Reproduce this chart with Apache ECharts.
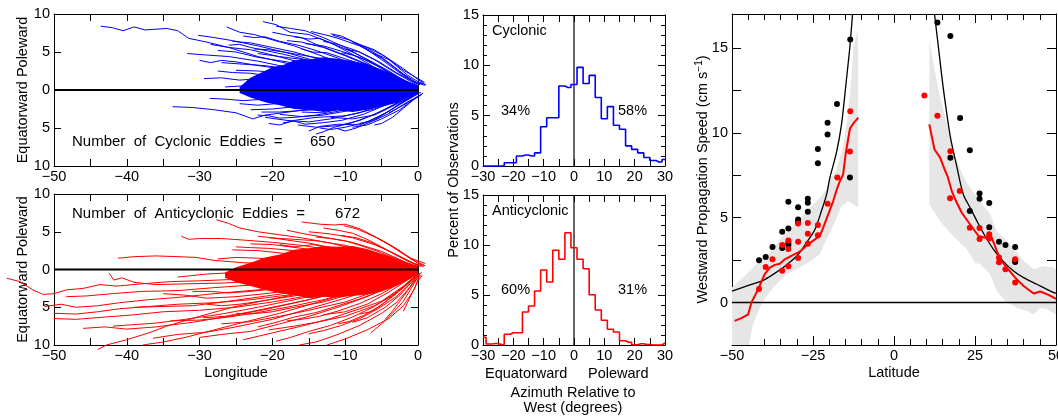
<!DOCTYPE html>
<html>
<head>
<meta charset="utf-8">
<title>Eddy propagation</title>
<script src="https://cdn.jsdelivr.net/npm/echarts@6/dist/echarts.min.js"></script>
<style>
    html, body { margin: 0; padding: 0; background: #fff; }
    #chart { width: 1058px; height: 416px; }
</style>
</head>
<body>
<div id="chart"></div>
<script>
// --- data ---

// eddy tracks, [longitude offset, latitude offset], west end first
const cycTracks = [
    [[-43.6,8.4],[-42,8.2],[-40.5,7.8],[-39,8.3],[-37.5,7.9],[-36,8.0],[-34.5,8.1],[-33,7.8],[-31.5,6.8],[-29,6.3],[-26,5.6],[-22,4.4],[-18,3.5],[-13,2.4],[-8,1.4],[-4,0.6],[0,0]],
    [[-30.2,7.2],[-28,6.9],[-25.5,6.5],[-22,5.8],[-18,4.9],[-14,3.8],[-10,2.6],[-6,1.4],[-3,0.6],[0,0.1]],
    [[-26.3,8.3],[-24.5,7.6],[-22.5,7.3],[-20,6.6],[-17,5.8],[-13,4.4],[-9,2.9],[-5,1.5],[-2,0.6],[0,0.2]],
    [[-21.3,9.0],[-19.5,8.6],[-17.6,7.6],[-15,7.3],[-12,6.2],[-9,4.7],[-6,3.0],[-3,1.5],[0,0.3]],
    [[-19.5,8.4],[-17.5,8.1],[-15.5,7.8],[-13,6.9],[-10,5.6],[-7,4.0],[-4,2.3],[-1.5,1.0],[0,0.4]],
    [[-14.7,7.7],[-12.5,7.2],[-11,6.8],[-8,5.8],[-5,4.2],[-2.5,2.4],[-0.5,1.0],[0.6,0.8]],
    [[-11.7,7.2],[-9.5,6.6],[-7,5.6],[-4.5,4.4],[-2,2.8],[0,1.4],[0.8,0.9]],
    [[-31.7,4.8],[-29,4.6],[-26,4.4],[-22,3.8],[-18,3.0],[-14,2.2],[-10,1.4],[-5,0.6],[0,0]],
    [[-28.5,6.0],[-26,5.6],[-23,5.3],[-20,4.6],[-16,3.6],[-12,2.6],[-8,1.6],[-4,0.7],[0,0.1]],
    [[-29.4,1.5],[-27,1.6],[-24.5,1.3],[-22,1.5],[-19,1.2],[-15,0.9],[-10,0.6],[-5,0.3],[0,0]],
    [[-28.6,-1.1],[-26.5,-1.2],[-24,-1.4],[-21,-1.2],[-17,-1.0],[-12,-0.8],[-7,-0.4],[0,0]],
    [[-33.7,-2.2],[-31,-2.3],[-28,-2.6],[-25,-3.0],[-22.7,-3.8],[-21,-3.3],[-17,-2.8],[-12,-2.0],[-7,-1.2],[-3,-0.5],[0,0]],
    [[-14,-5.8],[-13,-5.5],[-11.5,-4.9],[-9,-4.3],[-6,-3.2],[-3,-1.8],[0,-0.3]],
    [[-15,-5.4],[-13.5,-4.8],[-11,-4.5],[-8,-4.6],[-5.5,-3.6],[-3,-2.2],[0,-0.5]],
    [[-21,-3.6],[-18,-4.0],[-15,-4.2],[-12,-3.8],[-8,-3.0],[-4,-1.6],[0,-0.2]],
    [[-9,-4.9],[-7,-4.6],[-5,-3.8],[-2.5,-2.6],[0,-0.8]],
    [[-25,2.6],[-22,2.5],[-19,2.3],[-15,1.8],[-10,1.1],[-5,0.5],[0,0]],
    [[-27,3.6],[-24,3.4],[-21,3.2],[-17,2.7],[-13,2.0],[-8,1.1],[-4,0.4],[0,0]],
    [[-24,-0.4],[-21,-0.6],[-18,-0.5],[-14,-0.4],[-9,-0.2],[0,0]],
    [[-23,-2.6],[-20,-2.5],[-17,-2.2],[-13,-1.8],[-9,-1.2],[-4,-0.5],[0,0]],
    [[-19,-3.2],[-16,-3.5],[-13,-3.3],[-10,-2.8],[-6,-1.9],[-2,-0.7],[0,-0.1]],
    [[-25.5,6.4],[-23,6.2],[-20,5.6],[-17,5.0],[-13,3.9],[-9,2.7],[-5,1.4],[0,0.1]],
    [[-18,6.5],[-16,6.3],[-13,5.6],[-10,4.5],[-7,3.3],[-4,2.0],[-1,0.7],[0,0.3]],
    [[-16.5,-4.6],[-14,-4.9],[-11,-4.7],[-8,-4.0],[-5,-2.8],[-2,-1.2],[0,-0.3]],
    [[-20,0.9],[-17,1.0],[-13,0.7],[-8,0.4],[0,0]],
    [[-12,-3.6],[-9,-3.8],[-6,-3.3],[-3,-1.9],[0,-0.4]],
    [[-8,-4.4],[-6,-4.0],[-4,-3.1],[-1.5,-1.6],[0.5,-0.6]],
    [[-6,4.8],[-4,4.0],[-2,2.6],[0,1.5],[0.9,1.0]],
    [[-10,5.4],[-8,5.0],[-5.5,3.8],[-3,2.3],[0,0.8]],
    [[-22,4.8],[-19,4.4],[-15,3.9],[-11,3.0],[-7,1.9],[-3,0.8],[0,0.1]],
    [[-17,-1.8],[-14,-2.1],[-10,-1.8],[-6,-1.2],[-2,-0.4],[0,0]],
    [[-26.5,0.4],[-23,0.6],[-19,0.3],[-15,0.2],[-10,0.1],[0,0]],
    [[-20.5,-4.4],[-19,-4.6],[-17,-4.0],[-14,-3.6],[-10,-3.4],[-6,-2.5],[-2,-1.0],[0,-0.2]],
    [[-27.5,5.2],[-25,5.0],[-22,4.3],[-18,3.7],[-14,2.9],[-10,2.0],[-5,0.9],[0,0.1]],
    [[-13,6.4],[-11,6.0],[-8.5,5.2],[-6,4.0],[-3,2.2],[0,0.6]],
    [[-16,-2.9],[-13,-3.0],[-10,-2.3],[-6,-1.6],[-3,-0.8],[0,0]],
    [[-4,-3.0],[-2,-2.0],[0,-0.9],[0.7,-0.4]],
    [[-23.5,1.2],[-20,1.8],[-16,1.5],[-11,1.0],[-6,0.5],[0,0]],
    [[-24,7.1],[-22.5,6.9],[-21,7.0],[-19,6.4],[-16.5,5.9],[-14,5.2],[-11,4.2],[-8,3.0],[-5,1.8],[-2,0.7],[0,0.2]],
    [[-22.5,5.4],[-20.5,5.3],[-18.5,5.0],[-16,4.6],[-13,4.1],[-10,3.3],[-7,2.4],[-4,1.3],[-1,0.4],[0,0.1]],
    [[-17,7.0],[-15,6.7],[-13.5,6.8],[-11.5,6.0],[-9,5.0],[-6.5,3.8],[-4,2.5],[-2,1.3],[0,0.5]],
    [[-12,7.4],[-10.5,7.1],[-9,6.4],[-7,5.3],[-5,4.0],[-3,2.6],[-1,1.3],[0.3,0.7]],
    [[-9,6.3],[-7.5,5.7],[-6,4.9],[-4,3.6],[-2,2.1],[0,0.9],[1,0.6]],
    [[-20,7.6],[-18,7.2],[-16,6.9],[-14,6.0],[-12,5.3],[-9.5,4.4],[-7,3.4],[-4,2.0],[-1.5,0.9],[0,0.4]],
    [[-15.5,6.1],[-13,5.8],[-10.5,5.1],[-8,4.3],[-5.5,3.1],[-3,1.8],[-1,0.8],[0,0.3]],
    [[-7.5,5.8],[-6,5.3],[-4.5,4.4],[-3,3.2],[-1.5,2.0],[0,1.1],[1.1,0.7]],
    [[-24.5,-1.8],[-22,-2.0],[-19.5,-1.8],[-16,-1.5],[-12,-1.2],[-8,-0.8],[-4,-0.3],[0,0]],
    [[-18.5,-4.3],[-17,-4.1],[-15.5,-4.5],[-13,-4.3],[-10.5,-4.0],[-7.5,-3.2],[-4.5,-2.0],[-2,-0.9],[0,-0.2]],
    [[-11,-5.1],[-10,-5.4],[-8.5,-5.0],[-6.5,-4.2],[-4.5,-3.1],[-2.5,-1.8],[-0.5,-0.7],[0.4,-0.3]],
    [[-13.5,-5.0],[-12,-5.2],[-10,-4.9],[-7,-4.2],[-4,-2.8],[-1.5,-1.2],[0,-0.4]],
    [[-6,-4.6],[-5,-4.4],[-3.5,-3.6],[-2,-2.4],[-0.5,-1.2],[0.6,-0.5]],
    [[-27.5,2.5],[-25.5,2.3],[-23,2.2],[-20,1.8],[-16,1.4],[-11,0.8],[-6,0.4],[0,0]],
    [[-21.5,-2.9],[-19,-2.9],[-16,-2.7],[-12,-2.5],[-8,-1.7],[-4,-0.9],[0,-0.1]],
    [[-10.5,4.9],[-9,4.6],[-7,3.9],[-5,2.9],[-3,1.8],[-1,0.8],[0,0.4]],
    [[-26,5.9],[-24.5,6.0],[-23,5.6],[-21,5.2],[-18.5,4.7],[-15,3.9],[-11,2.8],[-7,1.7],[-3,0.7],[0,0.1]],
    [[-30,3.9],[-28.5,3.6],[-27,3.9],[-25,3.7],[-22.5,3.3],[-19,2.8],[-15,2.0],[-10,1.2],[-5,0.5],[0,0]],
    [[-22,-3.3],[-20.5,-3.4],[-19,-3.7],[-17,-3.6],[-14,-3.3],[-11,-2.8],[-7,-2.0],[-3,-0.9],[0,-0.1]],
    [[-16,5.4],[-14.5,5.0],[-12.5,4.9],[-10,4.1],[-7.5,3.3],[-5,2.2],[-2.5,1.1],[0,0.3]]
];

const antiTracks = [
    [[-56.5,-1.15],[-54.7,-1.6],[-52.9,-2.7],[-51.5,-3.3],[-50,-3.2],[-48.3,-2.7],[-46,-2.5],[-43.7,-2.0],[-41.4,-2.2],[-38,-1.9],[-34,-1.6],[-30,-1.5],[-25,-1.3],[-20,-1.0],[-14,-0.7],[-8,-0.4],[0,0]],
    [[-51.3,-4.9],[-49,-4.6],[-47,-5.0],[-44,-4.8],[-41,-4.4],[-37,-4.0],[-33,-3.7],[-28,-3.2],[-22,-2.7],[-16,-2.0],[-10,-1.3],[-5,-0.6],[0,0]],
    [[-50,-5.8],[-47,-5.9],[-44,-5.6],[-41,-5.2],[-37,-4.9],[-33,-4.6],[-28,-4.4],[-23,-4.0],[-18,-3.4],[-12,-2.4],[-6,-1.2],[0,0]],
    [[-50,-6.5],[-47,-6.6],[-43,-6.3],[-39,-6.0],[-35,-5.6],[-30,-5.4],[-25,-5.0],[-20,-4.3],[-14,-3.3],[-8,-2.0],[-3,-0.8],[0,0]],
    [[-48.3,-3.6],[-45.5,-3.5],[-42,-3.2],[-38,-2.9],[-33,-2.8],[-28,-2.4],[-22,-2.0],[-15,-1.5],[-8,-0.8],[0,0]],
    [[-42.4,-0.5],[-41.8,-1.4],[-40.7,-1.1],[-39,-1.7],[-36,-2.0],[-32,-1.9],[-27,-1.8],[-21,-1.5],[-14,-1.1],[-7,-0.5],[0,0]],
    [[-41.2,1.5],[-39,1.7],[-36,1.8],[-33,1.7],[-30.5,1.6],[-28,1.2],[-24,0.9],[-18,0.6],[-12,0.4],[-6,0.2],[0,0]],
    [[-32.5,4.4],[-31.5,4.0],[-30,4.1],[-27,4.1],[-24,3.9],[-20,3.6],[-16,3.2],[-12,2.6],[-8,1.8],[-4,0.9],[0,0.2]],
    [[-27.7,6.6],[-26,6.1],[-24.5,5.5],[-22,5.0],[-19,4.6],[-16,4.2],[-12,3.5],[-8,2.5],[-4,1.3],[0,0.2]],
    [[-16,6.3],[-13.5,6.0],[-11.5,5.9],[-10,6.0],[-8,5.4],[-6,4.4],[-4,3.3],[-2,2.1],[0,0.8],[1,0.5]],
    [[-10.2,5.8],[-8.5,5.4],[-6,4.4],[-3.5,3.0],[-1,1.4],[0.8,0.6]],
    [[-44,-10.6],[-42.8,-10.0],[-40,-9.3],[-37,-8.4],[-34.5,-7.5],[-30,-6.2],[-25.5,-5.0],[-20,-3.9],[-14,-2.8],[-8,-1.6],[-3,-0.6],[0,0]],
    [[-41.9,-7.5],[-39,-7.3],[-36,-7.1],[-32,-6.6],[-27,-5.9],[-22,-5.0],[-16,-3.8],[-10,-2.4],[-4,-1.0],[0,0]],
    [[-37.8,-10.0],[-35,-9.6],[-32,-9.0],[-28,-8.0],[-24,-7.0],[-19,-5.8],[-14,-4.4],[-9,-3.0],[-4,-1.4],[0,-0.2]],
    [[-36.4,-9.1],[-33,-8.6],[-29,-8.3],[-25,-7.6],[-20,-6.6],[-15,-5.2],[-10,-3.8],[-5,-2.2],[0,-0.3]],
    [[-16.3,-10.0],[-14,-9.6],[-11,-8.6],[-8,-7.4],[-5,-5.8],[-3,-4.4],[-1.5,-2.8],[0,-0.8]],
    [[-12.5,-10.0],[-10,-9.2],[-7,-8.0],[-4,-6.5],[-2,-4.8],[-0.5,-2.6],[0.2,-0.8]],
    [[-30,-9.0],[-27,-8.6],[-23,-8.2],[-19,-7.2],[-15,-6.2],[-11,-5.0],[-7,-3.6],[-3,-1.8],[0,-0.3]],
    [[-24,-9.3],[-20,-8.4],[-16,-7.5],[-12,-6.5],[-8,-5.2],[-5,-4.2],[-2,-2.2],[0,-0.5]],
    [[-20.5,-8.0],[-17,-7.5],[-14,-7.0],[-10,-6.2],[-6,-4.8],[-3,-3.2],[0,-0.6]],
    [[-34,-6.8],[-30,-6.7],[-26,-6.3],[-22,-5.7],[-18,-5.0],[-13,-4.0],[-8,-2.7],[-3,-1.1],[0,0]],
    [[-6.5,-8.4],[-5,-7.2],[-3.5,-5.8],[-2,-4.2],[-1,-2.6],[0,-1.0]],
    [[-15,5.0],[-12,4.7],[-9,4.2],[-6,3.3],[-3,2.0],[0,0.5]],
    [[-20.5,4.2],[-17,4.0],[-14,3.8],[-10,3.2],[-6,2.2],[-2,0.9],[0,0.3]],
    [[-23,3.4],[-20,3.3],[-16,2.8],[-12,2.3],[-8,1.6],[-4,0.7],[0,0]],
    [[-25.5,2.6],[-22,2.5],[-18,2.1],[-13,1.6],[-8,1.0],[-3,0.3],[0,0]],
    [[-7,4.8],[-5,3.9],[-3,2.8],[-1,1.5],[1,0.8]],
    [[-13,-6.0],[-10,-5.6],[-7,-4.6],[-4,-3.0],[-1.5,-1.4],[0,-0.4]],
    [[-27,-7.2],[-23,-6.9],[-19,-6.2],[-15,-5.4],[-10,-4.3],[-5,-2.6],[0,-0.2]],
    [[-39,-5.0],[-35,-4.9],[-31,-4.8],[-26,-4.2],[-20,-3.4],[-14,-2.6],[-7,-1.3],[0,0]],
    [[-46,-7.8],[-43,-7.6],[-40,-7.9],[-36,-7.6],[-31,-7.0],[-26,-6.2],[-21,-5.3],[-15,-4.0],[-9,-2.5],[-3,-0.8],[0,0]],
    [[-33,-1.0],[-29,-0.6],[-25,-0.4],[-20,-0.3],[-14,-0.2],[0,0]],
    [[-9,-7.0],[-7,-6.4],[-4.5,-5.0],[-2.5,-3.4],[-1,-1.8],[0.3,-0.6]],
    [[-18,5.2],[-15.5,4.7],[-12.5,4.2],[-9,3.6],[-5,2.4],[-2,1.1],[0,0.3]],
    [[-2,-5.5],[-1,-3.5],[0,-1.5],[0.6,-0.8]],
    [[-22,4.4],[-20,4.2],[-18,3.9],[-15,3.5],[-12,2.9],[-9,2.2],[-6,1.4],[-3,0.6],[0,0.1]],
    [[-13,5.5],[-11,5.2],[-9,4.8],[-7,4.0],[-5,3.0],[-3,1.9],[-1,0.9],[0.5,0.4]],
    [[-19,3.3],[-17,3.0],[-14.5,3.3],[-12,2.9],[-9,2.4],[-6,1.6],[-3,0.8],[0,0.2]],
    [[-10.5,4.5],[-8.5,4.2],[-6.5,3.6],[-4.5,2.7],[-2.5,1.7],[-0.5,0.8],[0.8,0.4]],
    [[-31,-2.9],[-28.5,-2.9],[-26,-3.1],[-23,-2.9],[-19,-2.5],[-14,-1.9],[-9,-1.2],[-4,-0.5],[0,0]],
    [[-29,-4.6],[-27,-4.8],[-24.5,-4.6],[-21,-4.1],[-17,-3.5],[-12,-2.6],[-7,-1.5],[-3,-0.6],[0,0]],
    [[-25,-5.8],[-23,-5.9],[-20,-5.6],[-17,-5.0],[-13,-4.3],[-9,-3.2],[-5,-1.9],[-2,-0.8],[0,-0.2]],
    [[-18,-6.8],[-16,-6.6],[-13.5,-6.2],[-11,-5.5],[-8,-4.5],[-5,-3.2],[-2.5,-1.8],[0,-0.5]],
    [[-11,-7.2],[-9.5,-6.9],[-7.5,-6.1],[-5.5,-5.0],[-3.5,-3.6],[-1.5,-2.0],[0,-0.8]],
    [[-22,-7.6],[-19.5,-7.0],[-17,-6.3],[-14,-5.7],[-11,-4.8],[-8,-3.9],[-5,-2.8],[-2,-1.2],[0,-0.3]],
    [[-35,-3.2],[-32,-3.4],[-29,-3.8],[-25,-3.6],[-21,-3.2],[-16,-2.6],[-11,-1.8],[-6,-0.9],[0,0]],
    [[-4.5,-6.6],[-3.5,-5.5],[-2.5,-4.2],[-1.5,-2.9],[-0.5,-1.6],[0.5,-0.7]],
    [[-15,-8.5],[-13,-8.1],[-10.5,-7.4],[-8,-6.5],[-5.5,-5.2],[-3,-3.6],[-1,-1.8],[0.2,-0.7]],
    [[-27.5,1.4],[-25,1.6],[-22,1.5],[-18,1.3],[-13,0.9],[-8,0.6],[-3,0.2],[0,0]],
    [[-8,-5.9],[-6.5,-5.6],[-5,-4.7],[-3.5,-3.5],[-2,-2.3],[-0.5,-1.0],[0.5,-0.4]],
    [[-29.5,-6.4],[-26.5,-6.2],[-23,-5.6],[-19,-4.8],[-15,-4.0],[-11,-3.1],[-6,-1.8],[-2,-0.6],[0,0]],
    [[-25,3.0],[-23,2.9],[-20.5,2.8],[-17,2.5],[-13,2.1],[-9,1.5],[-5,0.8],[-2,0.3],[0,0]],
    [[-14,4.3],[-12,4.1],[-10,3.8],[-8,3.2],[-5.5,2.4],[-3,1.4],[-1,0.6],[0,0.3]],
    [[-19.5,-9.5],[-17.5,-9.0],[-15,-8.2],[-12,-7.4],[-9,-6.3],[-6,-4.9],[-3,-3.0],[-1,-1.5],[0,-0.6]]
];

// outline of the solid, over-plotted core of each track bundle
const cycCore = [[-24.5,0.4],[-23,1.6],[-21.5,2.3],[-20,3.0],[-18.5,3.3],[-17,3.9],[-15,4.0],[-13,4.3],[-11,4.1],[-9,3.8],[-7,3.4],[-5,2.7],[-3,1.9],[-1.5,1.2],[0,0.6],
    [0,-0.5],[-1.5,-1.0],[-3,-1.7],[-5,-2.2],[-7,-2.6],[-9,-2.9],[-11,-2.7],[-13,-2.9],[-15,-2.6],[-17,-2.5],[-19,-2.0],[-21,-1.6],[-23,-1.0],[-24.5,-0.4]];
const antiCore = [[-26.5,-0.4],[-25,0.3],[-23,0.9],[-21,1.6],[-19,2.0],[-17,2.6],[-15,2.8],[-13,3.1],[-11,3.0],[-9,3.1],[-7,2.7],[-5,2.1],[-3,1.5],[-1.5,0.9],[0,0.5],
    [0,-0.6],[-1.5,-1.5],[-3,-2.2],[-5,-2.9],[-7,-3.3],[-9,-3.5],[-11,-3.7],[-13,-3.6],[-15,-3.8],[-17,-3.4],[-19,-3.1],[-21,-2.7],[-23,-2.2],[-25,-1.7],[-26.5,-1.1]];

// azimuth histograms (bin centres, percent)
const azimuthBins = [-30,-28,-26,-24,-22,-20,-18,-16,-14,-12,-10,-8,-6,-4,-2,0,2,4,6,8,10,12,14,16,18,20,22,24,26,28,30];
const cycPercent = [0,0,0,0,0.33,0.33,1.0,1.1,1.0,1.3,3.9,4.8,4.8,7.95,7.8,8.1,9.8,8.2,9.0,6.8,4.7,5.9,4.05,3.65,2.0,1.65,1.3,0.85,0.55,0.4,0.65];
const antiPercent = [0.77,0.1,0.15,0.05,1.07,1.23,1.23,3.3,3.9,5.4,7.5,6.3,9.47,8.57,11.23,9.73,8.57,7.63,5.03,3.5,2.47,1.57,1.3,0.43,0.27,0.03,0.13,0.05,0,0,0.2];

// propagation speed vs latitude, [latitude, cm/s]
const bandSouth = [[-50,0.9],[-45.6,1.66],[-41.5,2.45],[-37.4,3.13],[-35.3,3.72],[-32.2,4.31],[-29.1,4.9],[-26.0,5.59],[-22.9,6.17],[-20.8,6.66],[-19.8,7.31],[-17.8,7.8],[-15.7,9.2],[-14.2,11.1],[-13.2,13.1],[-12.5,15.1],[-11.1,16.1],
    [-11.0,5.59],[-14.1,5.98],[-16.2,5.68],[-17.7,5.0],[-19.8,4.12],[-21.3,3.53],[-22.9,2.84],[-26.0,2.41],[-30.1,1.96],[-33.2,1.67],[-36.3,1.08],[-39.4,0.39],[-41.4,-0.3],[-43.5,-1.28],[-44.8,-2.5],[-50,-2.5]];
const bandNorth = [[10.9,15.45],[12.16,14.1],[14.2,12.1],[16.8,10.2],[18.9,8.6],[21.5,7.4],[23.5,6.76],[26.6,5.98],[29.7,5.2],[31.7,4.2],[33.8,3.82],[36.9,3.24],[40.0,2.45],[43.1,1.96],[46.2,2.16],[49.3,2.06],[50,1.96],
    [50,-0.7],[47.2,-0.4],[45.2,-0.3],[43.1,-0.7],[41.0,-0.5],[37.9,-0.3],[34.3,0.1],[31.7,0.69],[29.7,1.67],[26.6,2.25],[25.0,2.35],[22.5,3.14],[19.4,3.72],[16.8,4.22],[14.2,4.8],[12.2,5.39],[10.9,5.78]];

const theorySouth = [[-50,0.68],[-44.5,1.04],[-40.4,1.31],[-37.3,1.66],[-34.2,2.06],[-31.1,2.55],[-29.1,2.94],[-27.0,3.53],[-24.4,4.31],[-22.4,5.39],[-20.8,6.37],[-19.8,7.35],[-17.8,8.8],[-16.2,10.5],[-14.7,13.1],[-13.6,15.1],[-12.8,17.0]];
const theoryNorth = [[12.5,17.0],[13.7,15.06],[15.3,12.5],[17.4,9.76],[19.4,8.0],[21.4,6.37],[23.5,5.59],[25.6,4.8],[28.1,3.92],[30.7,3.14],[33.8,2.41],[36.9,1.86],[40.0,1.47],[44.1,1.08],[49.3,0.59],[50,0.55]];

const meanSouth = [[-49.2,-1.08],[-47.1,-0.92],[-45.0,-0.69],[-44.0,0.0],[-41.95,0.78],[-39.9,1.67],[-38.3,2.06],[-36.8,2.22],[-35.25,2.29],[-33.7,2.55],[-31.7,2.75],[-29.1,3.0],[-26.5,3.43],[-24.4,3.72],[-22.9,3.92],[-21.85,4.41],[-20.3,5.2],[-18.76,5.98],[-17.5,6.76],[-16.7,7.15],[-15.7,7.55],[-14.9,8.78],[-13.6,10.25],[-12.4,10.59],[-11.0,10.9]];
const meanNorth = [[10.9,10.5],[12.5,9.02],[14.2,8.55],[15.7,7.8],[16.6,7.4],[17.83,6.57],[19.38,5.88],[20.92,5.29],[23.5,4.6],[26.08,3.92],[28.14,3.82],[29.68,4.06],[31.54,3.14],[32.78,2.55],[34.84,2.06],[37.4,1.47],[40.0,0.98],[43.1,0.53],[45.15,0.65],[47.7,0.45],[49.3,0.29],[50,0.22]];

const blackDots = [[-13.5,15.5],[-17.6,11.7],[-20.5,10.6],[-20.5,9.9],[-23.5,9.04],[-23.5,8.2],[-13.6,7.37],[-32.6,5.94],[-26.6,6.12],[-26.6,5.88],[-29.6,5.62],[-26.6,5.35],[-29.6,4.9],[-29.6,4.74],[-34.5,4.17],[-32.6,4.37],[-32.6,3.53],[-32.6,3.39],[-34.5,3.21],[-37.5,3.27],[-39.6,2.68],[-41.65,2.5],
    [13.4,16.5],[17.4,15.7],[20.4,10.88],[23.4,8.98],[17.4,8.53],[26.4,6.43],[26.4,6.12],[29.4,5.86],[23.4,5.39],[29.4,4.43],[32.4,3.59],[34.4,3.39],[37.4,3.27],[37.4,2.49],[37.4,2.39]];
const redDots = [[-41.65,0.8],[-39.6,2.1],[-37.5,2.55],[-34.5,1.88],[-34.5,3.39],[-32.6,2.14],[-32.6,3.15],[-32.6,3.66],[-29.6,2.62],[-29.6,3.59],[-29.6,4.66],[-26.6,4.68],[-26.6,4.06],[-26.6,3.47],[-23.5,4.57],[-23.5,3.96],[-20.5,5.82],[-17.5,7.37],[-13.6,8.9],[-13.5,11.27],
    [9.37,12.2],[13.4,11.0],[17.4,8.92],[17.3,6.14],[20.3,6.57],[23.4,4.41],[26.4,4.39],[26.4,3.74],[29.4,4.02],[29.4,3.78],[32.4,2.65],[32.4,2.37],[34.4,1.96],[37.4,2.55],[37.4,1.18]];

// --- styling helpers ---
const FONT = '"Liberation Sans", Arial, sans-serif';
const FS = 14.5;
const BLUE = '#0000ff';
const RED = '#ff0000';

const minus = v => String(v).replace('-', '\u2212');

// two axes per dimension: one carrying labels, one mirrored (ticks only) to close the box
function boxAxes(gridIndex, dim, cfg) {
    const sides = dim === 'x' ? ['bottom', 'top'] : ['left', 'right'];
    return sides.map((pos, i) => ({
        type: 'value',
        gridIndex: gridIndex,
        position: pos,
        min: cfg.min,
        max: cfg.max,
        interval: cfg.interval,
        axisLine: { show: true, onZero: false, lineStyle: { color: '#000', width: 1 } },
        axisTick: { show: true, inside: true, length: cfg.tick, lineStyle: { color: '#000', width: 1 } },
        minorTick: cfg.minor
            ? { show: true, splitNumber: cfg.minor, length: cfg.minorLen, lineStyle: { color: '#000', width: 1 } }
            : { show: false },
        splitLine: { show: false },
        minorSplitLine: { show: false },
        axisLabel: i === 0
            ? { show: true, margin: cfg.margin, color: '#000', fontFamily: FONT, fontSize: FS, formatter: cfg.label }
            : { show: false },
        name: i === 0 ? (cfg.name || '') : '',
        nameLocation: 'middle',
        nameGap: cfg.nameGap || 20,
        nameMoveOverlap: false,
        nameTextStyle: Object.assign({ color: '#000', fontFamily: FONT, fontSize: FS }, cfg.nameStyle || {})
    }));
}

function polygonSeries(g, points, color, z) {
    return {
        type: 'custom', xAxisIndex: 2 * g, yAxisIndex: 2 * g, z: z, silent: true, clip: false,
        data: [[0, 0]],
        renderItem: (params, api) => ({
            type: 'polygon',
            shape: { points: points.map(p => api.coord(p)) },
            style: { fill: color }
        })
    };
}

function trackSeries(g, tracks, color) {
    return {
        type: 'lines', coordinateSystem: 'cartesian2d', xAxisIndex: 2 * g, yAxisIndex: 2 * g,
        polyline: true, clip: false, silent: true, z: 3,
        lineStyle: { color: color, width: 1, opacity: 1, curveness: 0 },
        data: tracks.map(t => ({ coords: t }))
    };
}

function lineSeries(g, data, color, width, z, extra) {
    return Object.assign({
        type: 'line', xAxisIndex: 2 * g, yAxisIndex: 2 * g, data: data, z: z,
        showSymbol: false, symbol: 'none', silent: true, clip: false,
        lineStyle: { color: color, width: width }
    }, extra || {});
}

function dotSeries(g, data, color) {
    return {
        type: 'scatter', xAxisIndex: 2 * g, yAxisIndex: 2 * g, data: data, z: 6,
        symbol: 'circle', symbolSize: 6, silent: true,
        itemStyle: { color: color, borderWidth: 0, opacity: 1 }
    };
}

function label(text, x, y, align, extra, size) {
    return Object.assign({
        type: 'text', x: x, y: y, silent: true,
        style: { text: text, font: (size || FS) + 'px ' + FONT, fill: '#000', textAlign: align || 'left', textVerticalAlign: 'middle' }
    }, extra || {});
}

// --- layout ---
const grids = [
    { left: 54, top: 14, width: 364, height: 152 },   // cyclonic tracks
    { left: 54, top: 194, width: 364, height: 151 },  // anticyclonic tracks
    { left: 483, top: 15, width: 182, height: 151 },  // cyclonic azimuths
    { left: 483, top: 195, width: 182, height: 150 }, // anticyclonic azimuths
    { left: 732, top: 14, width: 324, height: 331 }   // speed vs latitude
].map(g => Object.assign({ outerBoundsMode: 'none', containLabel: false }, g));

const lonLabel = v => (v % 10 === 0 ? minus(v) : '');
const trackX = { min: -50, max: 0, interval: 5, tick: 7, margin: 3, label: lonLabel };
const trackY = { min: -10, max: 10, interval: 5, tick: 7, margin: 4, label: v => String(Math.abs(v)),
    name: 'Equatorward Poleward', nameGap: 24 };
const histX = { min: -30, max: 30, interval: 5, tick: 7, margin: 3, label: v => (v % 10 === 0 ? minus(v) : '') };
const histY = { min: 0, max: 15, interval: 5, tick: 7, minor: 5, minorLen: 4, margin: 4, label: v => String(v) };

const xAxes = [].concat(
    boxAxes(0, 'x', trackX),
    boxAxes(1, 'x', Object.assign({}, trackX, { name: 'Longitude', nameGap: 20 })),
    boxAxes(2, 'x', histX),
    boxAxes(3, 'x', histX),
    boxAxes(4, 'x', { min: -50, max: 50, interval: 25, tick: 9, minor: 5, minorLen: 6, margin: 3,
        label: v => minus(v), name: 'Latitude', nameGap: 20 })
);
const yAxes = [].concat(
    boxAxes(0, 'y', trackY),
    boxAxes(1, 'y', trackY),
    boxAxes(2, 'y', histY),
    boxAxes(3, 'y', histY),
    boxAxes(4, 'y', { min: -2.5, max: 17, interval: 2.5, tick: 9, margin: 4,
        label: v => (Math.abs(v % 5) < 1e-9 ? String(v) : ''),
        name: 'Westward Propagation Speed (cm s{sup|\u22121})', nameGap: 20,
        nameStyle: { lineHeight: 18, rich: { sup: { fontFamily: FONT, fontSize: 10, verticalAlign: 'top', lineHeight: 10 } } } })
);

const series = [
    // track panels
    polygonSeries(0, cycCore, BLUE, 2),
    trackSeries(0, cycTracks, BLUE),
    lineSeries(0, [[-50, 0], [0, 0]], '#000', 2, 5),
    polygonSeries(1, antiCore, RED, 2),
    trackSeries(1, antiTracks, RED),
    lineSeries(1, [[-50, 0], [0, 0]], '#000', 2, 5),
    // histograms
    lineSeries(2, azimuthBins.map((b, i) => [b, cycPercent[i]]), BLUE, 1.6, 4, { step: 'middle' }),
    lineSeries(2, [[0, 0], [0, 15]], '#000', 1.2, 3),
    lineSeries(3, azimuthBins.map((b, i) => [b, antiPercent[i]]), RED, 1.6, 4, { step: 'middle' }),
    lineSeries(3, [[0, 0], [0, 15]], '#000', 1.2, 3),
    // speed vs latitude
    polygonSeries(4, bandSouth, '#e6e6e6', 1),
    polygonSeries(4, bandNorth, '#e6e6e6', 1),
    lineSeries(4, [[-50, 0], [50, 0]], '#000', 1.5, 3),
    lineSeries(4, theorySouth, '#000', 1.3, 4, { smooth: 0.3 }),
    lineSeries(4, theoryNorth, '#000', 1.3, 4, { smooth: 0.3 }),
    lineSeries(4, meanSouth, RED, 2, 5),
    lineSeries(4, meanNorth, RED, 2, 5),
    dotSeries(4, blackDots, '#000'),
    dotSeries(4, redDots, RED)
];

const NUM_FS = 15;
const graphic = [
    label('Number  of  Cyclonic  Eddies  =', 72, 142, 'left', null, NUM_FS),
    label('650', 310, 142, 'left', null, NUM_FS),
    label('Number  of  Anticyclonic  Eddies  =', 72, 214, 'left', null, NUM_FS),
    label('672', 335, 214, 'left', null, NUM_FS),
    label('Cyclonic', 492, 31),
    label('Anticyclonic', 492, 211),
    label('34%', 501, 111),
    label('58%', 618, 111),
    label('60%', 501, 290),
    label('31%', 618, 290),
    label('Equatorward', 485, 374),
    label('Poleward', 588, 374),
    label('Azimuth Relative to', 573, 393, 'center'),
    label('West (degrees)', 573, 408, 'center'),
    label('Percent of Observations', 454, 180, 'center', { rotation: Math.PI / 2 })
];

const chart = echarts.init(document.getElementById('chart'), null, { renderer: 'canvas' });
chart.setOption({
    animation: false,
    backgroundColor: '#fff',
    grid: grids,
    xAxis: xAxes,
    yAxis: yAxes,
    series: series,
    graphic: graphic
});
</script>
</body>
</html>
